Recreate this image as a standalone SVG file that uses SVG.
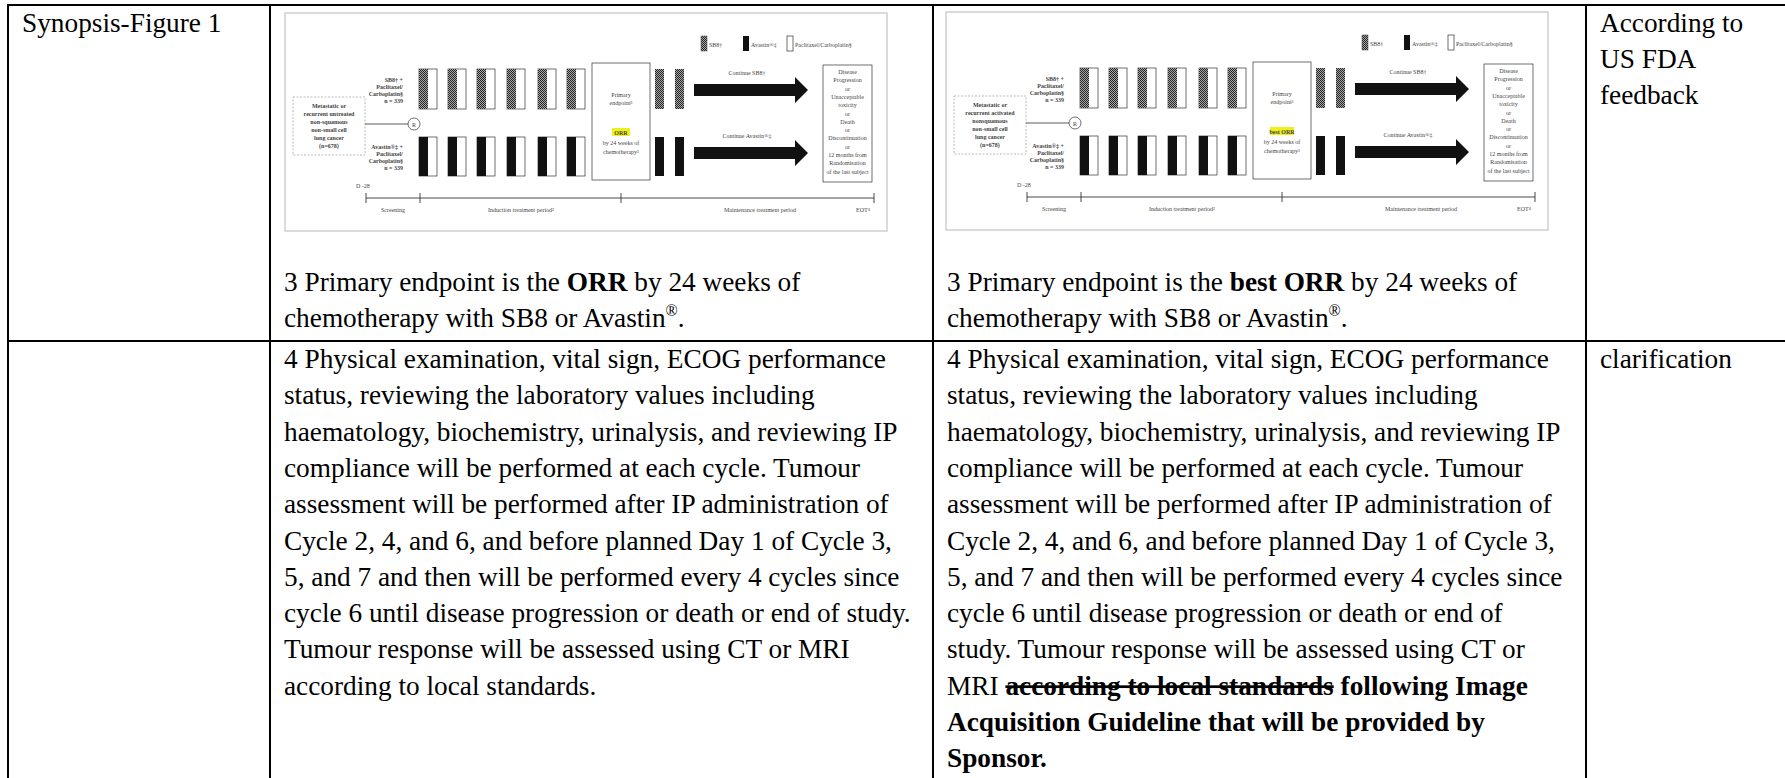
<svg xmlns="http://www.w3.org/2000/svg" xmlns:xlink="http://www.w3.org/1999/xlink" width="1785" height="778" viewBox="0 0 1785 778">
<style>
.t{font-family:"Liberation Serif","Times New Roman",serif;font-size:27.3px;fill:#000}
.b{font-weight:bold}
.s{text-decoration:line-through}
.f{font-family:"Liberation Serif","Times New Roman",serif;font-size:6px;fill:#444}
.fb{font-weight:bold}
.c{text-anchor:middle}
.r{text-anchor:end}
.bo{fill:#fff;stroke:#333;stroke-width:0.7}
.grid line{stroke:#000;stroke-width:2}
</style>
<defs>
<pattern id="chk" width="2" height="2" patternUnits="userSpaceOnUse">
<rect width="2" height="2" fill="#aaa"/><rect width="1" height="1" fill="#222"/><rect x="1" y="1" width="1" height="1" fill="#222"/>
</pattern>
<g id="figbase">
<rect x="0" y="0" width="602" height="218" fill="#fff" stroke="#cfcfcf" stroke-width="1.5"/>
<rect x="416" y="23" width="6" height="15" fill="url(#chk)" stroke="#444" stroke-width="0.5"/>
<text class="f" x="424" y="34">SB8†</text>
<rect x="458" y="23" width="6" height="15" fill="#111"/>
<text class="f" x="466" y="34">Avastin®‡</text>
<rect x="502" y="23" width="6" height="15" class="bo"/>
<text class="f" x="510" y="34" font-size="6.5">Paclitaxel/Carboplatin§</text>
<rect x="8" y="84" width="72" height="58" fill="#fff" stroke="#aaa" stroke-width="0.8" stroke-dasharray="2 1.5"/>
<line x1="80" y1="111" x2="123" y2="111" stroke="#333" stroke-width="0.8"/>
<circle cx="129" cy="111" r="6" class="bo"/>
<text class="f c" x="129" y="114" font-size="8">R</text>
<g class="f fb r" font-size="5.5">
<text x="118" y="69">SB8† +</text>
<text x="118" y="76">Paclitaxel/</text>
<text x="118" y="83">Carboplatin§</text>
<text x="118" y="90">n = 339</text>
<text x="118" y="136">Avastin®‡ +</text>
<text x="118" y="143">Paclitaxel/</text>
<text x="118" y="150">Carboplatin§</text>
<text x="118" y="157">n = 339</text>
</g>
<g id="bars">
<rect x="134" y="56" width="18" height="40" class="bo"/><rect x="134" y="56" width="9" height="40" fill="url(#chk)"/>
<rect x="163" y="56" width="18" height="40" class="bo"/><rect x="163" y="56" width="9" height="40" fill="url(#chk)"/>
<rect x="192" y="56" width="18" height="40" class="bo"/><rect x="192" y="56" width="9" height="40" fill="url(#chk)"/>
<rect x="222" y="56" width="18" height="40" class="bo"/><rect x="222" y="56" width="9" height="40" fill="url(#chk)"/>
<rect x="253" y="56" width="18" height="40" class="bo"/><rect x="253" y="56" width="9" height="40" fill="url(#chk)"/>
<rect x="282" y="56" width="18" height="40" class="bo"/><rect x="282" y="56" width="9" height="40" fill="url(#chk)"/>
<rect x="134" y="124" width="18" height="39" class="bo"/><rect x="134" y="124" width="9" height="39" fill="#111"/>
<rect x="163" y="124" width="18" height="39" class="bo"/><rect x="163" y="124" width="9" height="39" fill="#111"/>
<rect x="192" y="124" width="18" height="39" class="bo"/><rect x="192" y="124" width="9" height="39" fill="#111"/>
<rect x="222" y="124" width="18" height="39" class="bo"/><rect x="222" y="124" width="9" height="39" fill="#111"/>
<rect x="253" y="124" width="18" height="39" class="bo"/><rect x="253" y="124" width="9" height="39" fill="#111"/>
<rect x="282" y="124" width="18" height="39" class="bo"/><rect x="282" y="124" width="9" height="39" fill="#111"/>
<rect x="370" y="56" width="9" height="40" fill="url(#chk)"/>
<rect x="390" y="56" width="9" height="40" fill="url(#chk)"/>
<rect x="370" y="124" width="9" height="39" fill="#111"/>
<rect x="390" y="124" width="9" height="39" fill="#111"/>
</g>
<rect x="307" y="50" width="58" height="117" class="bo" stroke-width="0.9"/>
<text class="f c" x="336" y="84" font-size="6.5">Primary</text>
<text class="f c" x="336" y="92" font-size="6.5">endpoint³</text>
<path d="M409,71H510V64L523,77L510,90V83H409Z" fill="#111"/>
<path d="M409,134H510V127L523,140L510,153V146H409Z" fill="#111"/>
<text class="f c" x="462" y="62">Continue SB8†</text>
<text class="f c" x="462" y="125">Continue Avastin®‡</text>
<rect x="538" y="52" width="49" height="117" class="bo" stroke-width="0.9"/>
<g class="f c" font-size="5.3">
<text x="562.5" y="61">Disease</text>
<text x="562.5" y="69.3">Progression</text>
<text x="562.5" y="77.6">or</text>
<text x="562.5" y="85.9">Unacceptable</text>
<text x="562.5" y="94.2">toxicity</text>
<text x="562.5" y="102.5">or</text>
<text x="562.5" y="110.8">Death</text>
<text x="562.5" y="119.1">or</text>
<text x="562.5" y="127.4">Discontinuation</text>
<text x="562.5" y="135.7">or</text>
<text x="562.5" y="144">12 months from</text>
<text x="562.5" y="152.3">Randomisation</text>
<text x="562.5" y="160.6">of the last subject</text>
</g>
<g stroke="#333" stroke-width="0.9">
<line x1="81" y1="185" x2="589" y2="185"/>
<line x1="81" y1="180" x2="81" y2="190"/>
<line x1="135" y1="180" x2="135" y2="190"/>
<line x1="336" y1="180" x2="336" y2="190"/>
<line x1="589" y1="180" x2="589" y2="190"/>
</g>
<text class="f" x="71" y="175" font-size="6.5">D -28</text>
<g class="f c" font-size="6.5">
<text x="108" y="199">Screening</text>
<text x="236" y="199">Induction treatment period²</text>
<text x="475" y="199">Maintenance treatment period</text>
<text x="578" y="199">EOT⁴</text>
</g>
</g>
</defs>

<g id="grid" class="grid">
<line x1="7" y1="5" x2="1785" y2="5"/>
<line x1="7" y1="341" x2="1785" y2="341"/>
<line x1="8" y1="4" x2="8" y2="778"/>
<line x1="270" y1="4" x2="270" y2="778"/>
<line x1="933" y1="4" x2="933" y2="778"/>
<line x1="1586" y1="4" x2="1586" y2="778"/>
</g>

<g id="cell-r1c1">
<text class="t" x="22" y="32">Synopsis-Figure 1</text>
</g>

<g id="cell-r1c2">
<g id="figure-old" transform="translate(285,13)">
<use xlink:href="#figbase" href="#figbase"/>
<g class="f fb c" font-size="6">
<text x="44" y="95">Metastatic or</text>
<text x="44" y="103">recurrent untreated</text>
<text x="44" y="111">non-squamous</text>
<text x="44" y="119">non-small cell</text>
<text x="44" y="127">lung cancer</text>
<text x="44" y="135">(n=678)</text>
</g>
<rect x="327" y="115" width="18" height="8" fill="#eef01c"/>
<text class="f fb c" x="336" y="121.5">ORR</text>
<text class="f c" x="336" y="132">by 24 weeks of</text>
<text class="f c" x="336" y="141">chemotherapy³</text>
</g>
<text class="t" x="284" y="291">3 Primary endpoint is the <tspan class="b">ORR</tspan> by 24 weeks of</text>
<text class="t" x="284" y="327">chemotherapy with SB8 or Avastin<tspan font-size="16" dy="-11">®</tspan><tspan dy="11">.</tspan></text>
</g>

<g id="cell-r1c3">
<g id="figure-new" transform="translate(946,12)">
<use xlink:href="#figbase" href="#figbase"/>
<g class="f fb c" font-size="6">
<text x="44" y="95">Metastatic or</text>
<text x="44" y="103">recurrent activated</text>
<text x="44" y="111">nonsquamous</text>
<text x="44" y="119">non-small cell</text>
<text x="44" y="127">lung cancer</text>
<text x="44" y="135">(n=678)</text>
</g>
<rect x="324" y="115" width="24" height="8" fill="#eef01c"/>
<text class="f fb c" x="336" y="121.5">best ORR</text>
<text class="f c" x="336" y="132" fill="#4a5a9a">by 24 weeks of</text>
<text class="f c" x="336" y="141" fill="#4a5a9a">chemotherapy³</text>
</g>
<text class="t" x="947" y="291">3 Primary endpoint is the <tspan class="b">best ORR</tspan> by 24 weeks of</text>
<text class="t" x="947" y="327">chemotherapy with SB8 or Avastin<tspan font-size="16" dy="-11">®</tspan><tspan dy="11">.</tspan></text>
</g>

<g id="cell-r1c4">
<text class="t" x="1600" y="32">According to<tspan x="1600" dy="36">US FDA</tspan><tspan x="1600" dy="36">feedback</tspan></text>
</g>

<g id="cell-r2c2">
<text class="t" x="284" y="368">4 Physical examination, vital sign, ECOG performance<tspan x="284" dy="36.3">status, reviewing the laboratory values including</tspan><tspan x="284" dy="36.3">haematology, biochemistry, urinalysis, and reviewing IP</tspan><tspan x="284" dy="36.3">compliance will be performed at each cycle. Tumour</tspan><tspan x="284" dy="36.3">assessment will be performed after IP administration of</tspan><tspan x="284" dy="36.3">Cycle 2, 4, and 6, and before planned Day 1 of Cycle 3,</tspan><tspan x="284" dy="36.3">5, and 7 and then will be performed every 4 cycles since</tspan><tspan x="284" dy="36.3">cycle 6 until disease progression or death or end of study.</tspan><tspan x="284" dy="36.3">Tumour response will be assessed using CT or MRI</tspan><tspan x="284" dy="36.3">according to local standards.</tspan></text>
</g>

<g id="cell-r2c3">
<text class="t" x="947" y="368">4 Physical examination, vital sign, ECOG performance<tspan x="947" dy="36.3">status, reviewing the laboratory values including</tspan><tspan x="947" dy="36.3">haematology, biochemistry, urinalysis, and reviewing IP</tspan><tspan x="947" dy="36.3">compliance will be performed at each cycle. Tumour</tspan><tspan x="947" dy="36.3">assessment will be performed after IP administration of</tspan><tspan x="947" dy="36.3">Cycle 2, 4, and 6, and before planned Day 1 of Cycle 3,</tspan><tspan x="947" dy="36.3">5, and 7 and then will be performed every 4 cycles since</tspan><tspan x="947" dy="36.3">cycle 6 until disease progression or death or end of</tspan><tspan x="947" dy="36.3">study. Tumour response will be assessed using CT or</tspan></text>
<text class="t" x="947" y="694.7">MRI <tspan class="b s">according to local standards</tspan><tspan class="b"> following Image</tspan></text>
<text class="t b" x="947" y="731">Acquisition Guideline that will be provided by</text>
<text class="t b" x="947" y="767.3">Sponsor.</text>
</g>

<g id="cell-r2c4">
<text class="t" x="1600" y="368">clarification</text>
</g>
</svg>
